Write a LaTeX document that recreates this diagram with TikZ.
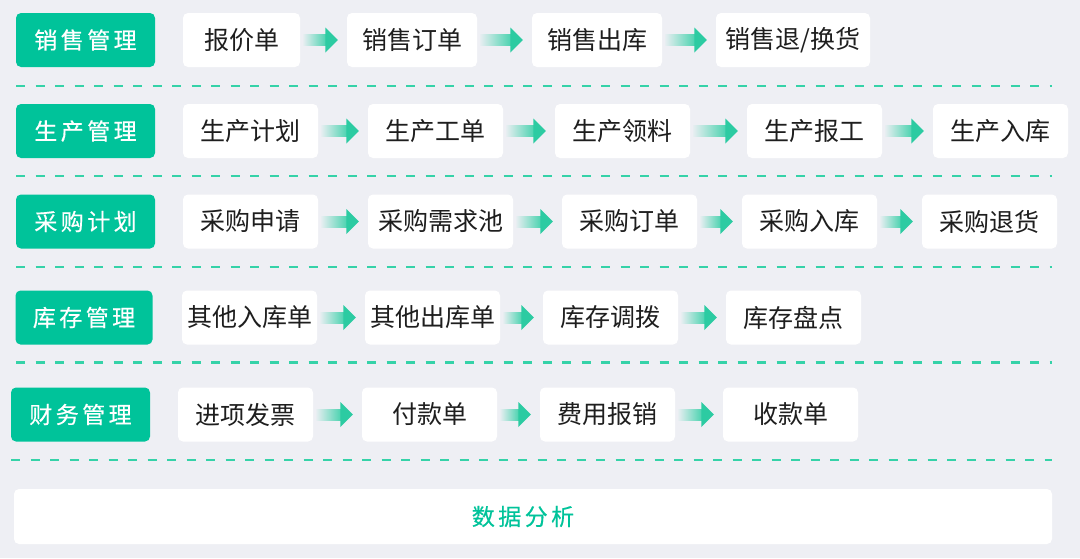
\documentclass[tikz,border=0pt]{standalone}
\usepackage{fontspec}
\usepackage{tikz}
\usetikzlibrary{calc}
\setmainfont{Noto Sans CJK SC}
\newfontfamily\spacedcjk[LetterSpace=15, FakeBold=0.4]{Noto Sans CJK SC}
\definecolor{pagebg}{HTML}{EEEFF4}
\definecolor{mintgreen}{HTML}{00C39A}
\definecolor{arrowteal}{HTML}{2CCBA2}
\definecolor{dashteal}{HTML}{35D2A8}
\definecolor{inktext}{HTML}{1E1E1E}
% flow arrow from box #1 to box #2: faded shaft, solid head
\newcommand{\flowarrow}[2]{%
  \shade[left color=arrowteal!4!pagebg, right color=arrowteal!85]
    ($(#1.east)+(3,-5.5)$) rectangle ($(#2.west)+(-21,5.5)$);
  \fill[arrowteal] ($(#2.west)+(-21.5,-12.5)$) -- ($(#2.west)+(-9,0)$)
    -- ($(#2.west)+(-21.5,12.5)$) -- cycle;}

\begin{document}
\begin{tikzpicture}[x=1pt, y=-1pt,
  catbox/.style={fill=mintgreen, rounded corners=5pt, text=white, inner sep=0pt,
    minimum width=139pt, minimum height=54pt, font=\spacedcjk\fontsize{23}{28}\selectfont},
  itembox/.style={fill=white, rounded corners=5pt, text=inktext, inner sep=0pt,
    minimum height=54pt, font=\fontsize{25}{30}\selectfont},
  dashline/.style={draw=dashteal, line width=2.5pt, dash pattern=on 9pt off 10.5pt}]
% background
\fill[pagebg] (0,0) rectangle (1080,558);

% Row 1: sales
\node[catbox] (sales) at (85.5,40) {销售管理};
\node[itembox, minimum width=117pt] (salesquote) at (241.5,40) {报价单};
\node[itembox, minimum width=130pt] (salesorder) at (412,40) {销售订单};
\node[itembox, minimum width=130pt] (salesout) at (597,40) {销售出库};
\node[itembox, minimum width=154pt] (salesreturn) at (793,40) {销售退/换货};
\flowarrow{salesquote}{salesorder}
\flowarrow{salesorder}{salesout}
\flowarrow{salesout}{salesreturn}
\draw[dashline] (16,86) -- (1052,86);

% Row 2: production
\node[catbox] (prod) at (85.5,131) {生产管理};
\node[itembox, minimum width=135pt] (prodplan) at (250.5,131) {生产计划};
\node[itembox, minimum width=135pt] (prodorder) at (435.5,131) {生产工单};
\node[itembox, minimum width=135pt] (prodpick) at (622.5,131) {生产领料};
\node[itembox, minimum width=135pt] (prodreport) at (814.5,131) {生产报工};
\node[itembox, minimum width=135pt] (prodin) at (1000.5,131) {生产入库};
\flowarrow{prodplan}{prodorder}
\flowarrow{prodorder}{prodpick}
\flowarrow{prodpick}{prodreport}
\flowarrow{prodreport}{prodin}
\draw[dashline] (16,176) -- (1052,176);

% Row 3: purchasing
\node[catbox] (purch) at (85.5,221.5) {采购计划};
\node[itembox, minimum width=135pt] (purchreq) at (250.5,221.5) {采购申请};
\node[itembox, minimum width=145pt] (purchpool) at (440.5,221.5) {采购需求池};
\node[itembox, minimum width=135pt] (purchorder) at (629.5,221.5) {采购订单};
\node[itembox, minimum width=135pt] (purchin) at (809.5,221.5) {采购入库};
\node[itembox, minimum width=135pt] (purchreturn) at (989.5,221.5) {采购退货};
\flowarrow{purchreq}{purchpool}
\flowarrow{purchpool}{purchorder}
\flowarrow{purchorder}{purchin}
\flowarrow{purchin}{purchreturn}
\draw[dashline] (16,267) -- (1052,267);

% Row 4: stock
\node[catbox, minimum width=137pt] (stock) at (84,317.5) {库存管理};
\node[itembox, minimum width=135pt] (stockin) at (249.5,317.5) {其他入库单};
\node[itembox, minimum width=135pt] (stockout) at (432.5,317.5) {其他出库单};
\node[itembox, minimum width=135pt] (stocktransfer) at (610.5,317.5) {库存调拨};
\node[itembox, minimum width=135pt] (stockcount) at (793.5,317.5) {库存盘点};
\flowarrow{stockin}{stockout}
\flowarrow{stockout}{stocktransfer}
\flowarrow{stocktransfer}{stockcount}
\draw[dashline] (16,362.5) -- (1052,362.5);

% Row 5: finance
\node[catbox] (fin) at (80.5,414.5) {财务管理};
\node[itembox, minimum width=135pt] (fininvoice) at (245.5,414.5) {进项发票};
\node[itembox, minimum width=135pt] (finpay) at (429.5,414.5) {付款单};
\node[itembox, minimum width=135pt] (finexpense) at (607.5,414.5) {费用报销};
\node[itembox, minimum width=135pt] (fincollect) at (790.5,414.5) {收款单};
\flowarrow{fininvoice}{finpay}
\flowarrow{finpay}{finexpense}
\flowarrow{finexpense}{fincollect}
\draw[dashline] (11,460) -- (1052,460);

% data analysis bar
\node[fill=white, rounded corners=5pt, minimum width=1038pt, minimum height=55pt,
  inner sep=0pt] (analysis) at (533,516.5) {};
\node[text=mintgreen, font=\spacedcjk\fontsize{23}{28}\selectfont] (analysistext)
  at (523,516.5) {数据分析};
\end{tikzpicture}
\end{document}
